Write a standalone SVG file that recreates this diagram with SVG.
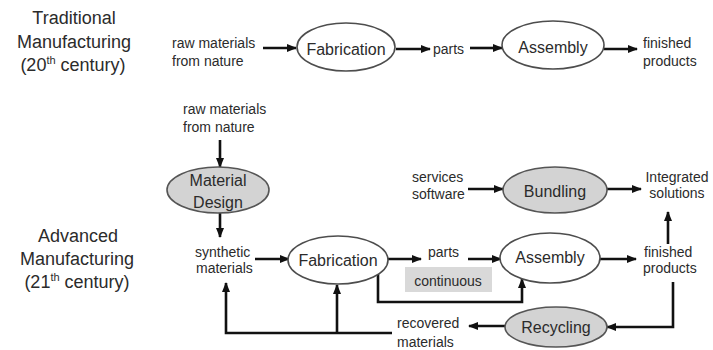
<svg xmlns="http://www.w3.org/2000/svg" width="713" height="350" viewBox="0 0 713 350">
<style>
text{font-family:"Liberation Sans",Arial,sans-serif;fill:#2b2b2b}
.lab{font-size:18px;text-anchor:middle}
.nt{font-size:16px;text-anchor:middle}
.sm{font-size:14px}
.node{fill:#fff;stroke:#4d4d4d;stroke-width:1.6}
.gray{fill:#d3d3d3;stroke:#555;stroke-width:1.6}
.c{fill:none;stroke:#111;stroke-width:2.6}
</style>
<defs>
<marker id="ah" viewBox="0 0 10 8" markerWidth="10" markerHeight="8" refX="9" refY="4" orient="auto" markerUnits="userSpaceOnUse">
<path d="M0,0 L10,4 L0,8 z" fill="#111"/>
</marker>
</defs>
<rect width="713" height="350" fill="#fff"/>

<g id="labels">
<text class="lab" x="74" y="24">Traditional</text>
<text class="lab" x="74" y="48">Manufacturing</text>
<text class="lab" x="73" y="71">(20<tspan font-size="11" dy="-7">th</tspan><tspan dy="7"> century)</tspan></text>
<text class="lab" x="78" y="242">Advanced</text>
<text class="lab" x="77" y="265">Manufacturing</text>
<text class="lab" x="77" y="288">(21<tspan font-size="11" dy="-7">th</tspan><tspan dy="7"> century)</tspan></text>
</g>

<g id="connectors">
<path class="c" d="M263,48 H296" marker-end="url(#ah)"/>
<path class="c" d="M396,49 H430" marker-end="url(#ah)"/>
<path class="c" d="M470,48 H502" marker-end="url(#ah)"/>
<path class="c" d="M604,49 H637" marker-end="url(#ah)"/>
<path class="c" d="M220,140 V167" marker-end="url(#ah)"/>
<path class="c" d="M220,213 V237" marker-end="url(#ah)"/>
<path class="c" d="M255,259 H289" marker-end="url(#ah)"/>
<path class="c" d="M388,259 H421" marker-end="url(#ah)"/>
<path class="c" d="M468,259 H501" marker-end="url(#ah)"/>
<path class="c" d="M600,259 H636" marker-end="url(#ah)"/>
<path class="c" d="M668,244 V212" marker-end="url(#ah)"/>
<path class="c" d="M468,189 H503" marker-end="url(#ah)"/>
<path class="c" d="M607,189 H641" marker-end="url(#ah)"/>
<path class="c" d="M378,274 V302 H522 V279" marker-end="url(#ah)"/>
<path class="c" d="M673,282 V327 H607" marker-end="url(#ah)"/>
<path class="c" d="M505,326 H469" marker-end="url(#ah)"/>
<path class="c" d="M392,333 H226 V283" marker-end="url(#ah)"/>
<path class="c" d="M337,333 V285" marker-end="url(#ah)"/>
</g>

<g id="raw-top"><text class="sm" x="172" y="48">raw materials</text><text class="sm" x="172" y="66">from nature</text></g>
<g id="fabrication-top"><ellipse class="node" cx="346" cy="47" rx="49" ry="24"/><text class="nt" x="346" y="55">Fabrication</text></g>
<g id="parts-top"><text class="sm" x="433" y="54">parts</text></g>
<g id="assembly-top"><ellipse class="node" cx="553" cy="45" rx="51" ry="24"/><text class="nt" x="553" y="53">Assembly</text></g>
<g id="finished-top"><text class="sm" x="643" y="48">finished</text><text class="sm" x="643" y="66">products</text></g>

<g id="raw-bottom"><text class="sm" x="183" y="114">raw materials</text><text class="sm" x="183" y="132">from nature</text></g>
<g id="material-design"><ellipse class="gray" cx="218" cy="190" rx="51" ry="23"/><text class="nt" x="218" y="186">Material</text><text class="nt" x="218" y="208">Design</text></g>
<g id="synthetic"><text class="sm" x="195" y="257">synthetic</text><text class="sm" x="196" y="273">materials</text></g>
<g id="fabrication-bottom"><ellipse class="node" cx="338" cy="260" rx="50" ry="24"/><text class="nt" x="338" y="266">Fabrication</text></g>
<g id="parts-bottom"><text class="sm" x="428" y="257">parts</text></g>
<g id="continuous"><rect x="405" y="267" width="87" height="25" fill="#d9d9d9"/><text class="sm" x="448" y="286" text-anchor="middle">continuous</text></g>
<g id="assembly-bottom"><ellipse class="node" cx="550" cy="258" rx="50" ry="25"/><text class="nt" x="550" y="263">Assembly</text></g>
<g id="finished-bottom"><text class="sm" x="644" y="257">finished</text><text class="sm" x="643" y="273">products</text></g>
<g id="services"><text class="sm" x="412" y="182">services</text><text class="sm" x="412" y="199">software</text></g>
<g id="bundling"><ellipse class="gray" cx="555" cy="190" rx="52" ry="23"/><text class="nt" x="555" y="197">Bundling</text></g>
<g id="integrated"><text class="sm" x="677" y="182" text-anchor="middle">Integrated</text><text class="sm" x="677" y="198" text-anchor="middle">solutions</text></g>
<g id="recycling"><ellipse class="gray" cx="556" cy="327" rx="51" ry="20"/><text class="nt" x="556" y="333">Recycling</text></g>
<g id="recovered"><text class="sm" x="397" y="328">recovered</text><text class="sm" x="397" y="347">materials</text></g>
</svg>
